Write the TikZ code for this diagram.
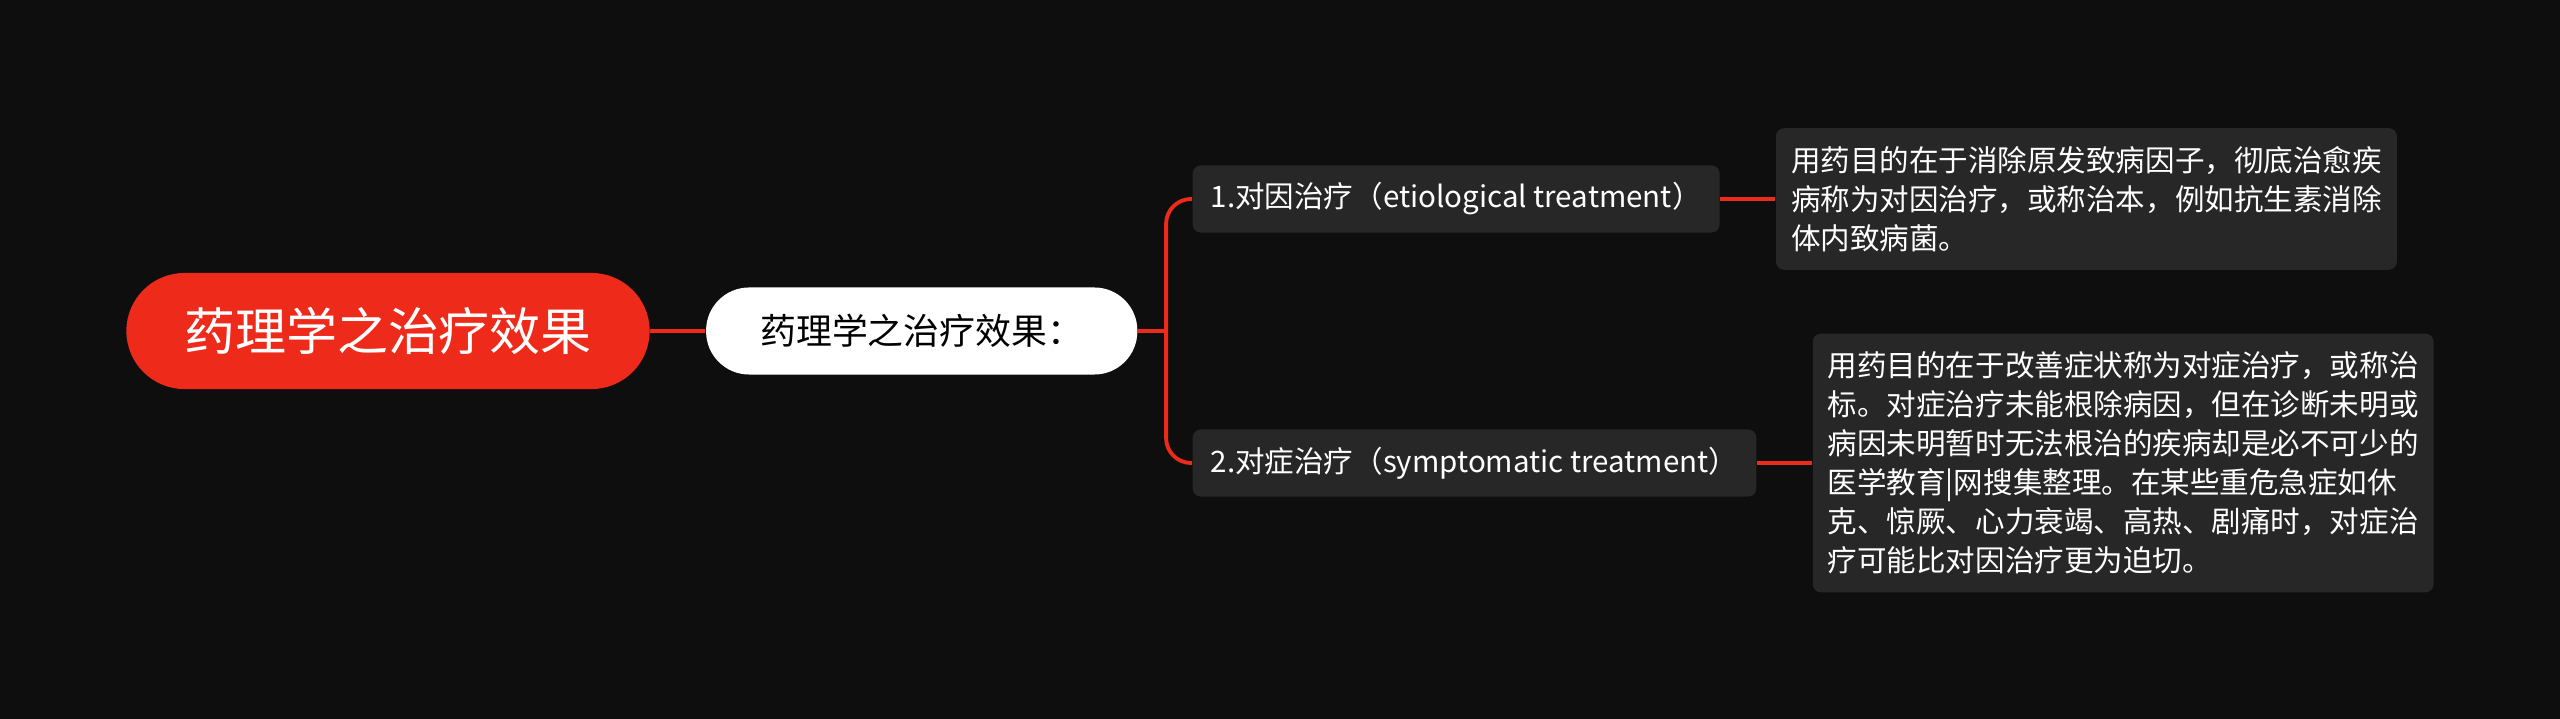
\documentclass[tikz,border=0pt]{standalone}
\usepackage{fontspec}
\setmainfont{Noto Sans CJK SC}
\usetikzlibrary{positioning}
\definecolor{bgblack}{HTML}{0E0E0E}
\definecolor{mapred}{HTML}{EE2A1B}
\definecolor{boxgrey}{HTML}{272727}
\tikzset {
  link/.style = {
    draw = mapred,
    line width = 1.1pt,
    rounded corners = 0.25cm
  }
}
\tikzset {
  % central topic
  root/.style = {
    fill = mapred,
    text = white,
    rounded corners = 0.58cm,
    minimum width = 5.23cm,
    minimum height = 1.16cm,
    font = \fontsize{14.5}{17}\selectfont
  },
  % first level
  sub/.style = {
    fill = white,
    text = black,
    rounded corners = 0.43cm,
    minimum width = 4.31cm,
    minimum height = 0.87cm,
    font = \fontsize{10.2}{12}\selectfont
  },
  % second level
  branch/.style = {
    fill = boxgrey,
    text = white,
    rounded corners = 0.08cm,
    inner xsep = 0.18cm,
    minimum height = 0.67cm,
    font = \fontsize{8.4}{11}\selectfont
  },
  % detail text
  leaf/.style = {
    branch,
    align = left,
    inner xsep = 0.15cm,
    inner ysep = 0.18cm,
    font = \fontsize{8.4}{11.1}\selectfont
  },
  node distance = 0.55cm
}
\begin{document}
\begin{tikzpicture}[x=0.01cm, y=-0.01cm]
  \fill[bgblack] (0,0) rectangle (2560,719);
  \useasboundingbox (0,0) rectangle (2560,719);

  \node[root] (root) at (388,331) {药理学之治疗效果};
  \node[sub] (sub) [right=of root] {药理学之治疗效果：};
  \coordinate [right=0.28cm of sub] (fork);
  \node[branch, anchor=west] (cause) at (1192,199) {1.对因治疗（etiological treatment）};
  \node[branch, anchor=west] (symptom) at (1192,463) {2.对症治疗（symptomatic treatment）};
  \node[leaf] (cause-text) [right=of cause] {用药目的在于消除原发致病因子，彻底治愈疾\\病称为对因治疗，或称治本，例如抗生素消除\\体内致病菌。};
  \node[leaf] (symptom-text) [right=of symptom] {用药目的在于改善症状称为对症治疗，或称治\\标。对症治疗未能根除病因，但在诊断未明或\\病因未明暂时无法根治的疾病却是必不可少的\\医学教育|网搜集整理。在某些重危急症如休\\克、惊厥、心力衰竭、高热、剧痛时，对症治\\疗可能比对因治疗更为迫切。};

  \draw[link] (root) -- (sub);
  \draw[link] (sub) -- (fork);
  \draw[link] (fork) |- (cause);
  \draw[link] (fork) |- (symptom);
  \draw[link] (cause) -- (cause-text);
  \draw[link] (symptom) -- (symptom-text);
\end{tikzpicture}
\end{document}
